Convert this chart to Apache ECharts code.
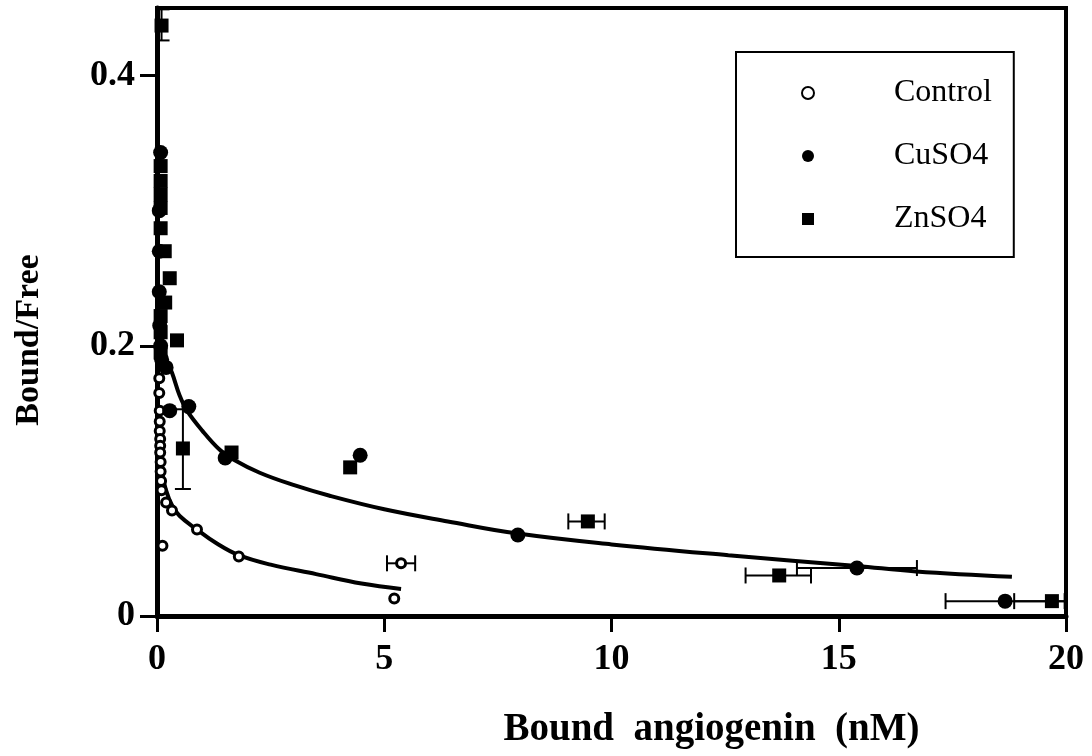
<!DOCTYPE html>
<html>
<head>
<meta charset="utf-8">
<script src="https://cdn.jsdelivr.net/npm/echarts@6/dist/echarts.min.js"></script>
<style>
html,body{margin:0;padding:0;background:#fff;}
#chart{width:1092px;height:756px;}
</style>
</head>
<body>
<div id="chart"></div>
<script>
// ---- data ----
const xTicks = [0, 5, 10, 15, 20];
const yTicks = [0, 0.2, 0.4];
const seriesNames = ['Control', 'CuSO4', 'ZnSO4'];

const controlPts = [[0.05,0.176],[0.05,0.165],[0.06,0.152],[0.06,0.144],[0.06,0.137],[0.07,0.131],[0.07,0.126],[0.07,0.121],[0.08,0.114],[0.08,0.107],[0.09,0.100],[0.10,0.093],[0.20,0.084],[0.33,0.078],[0.12,0.052],[0.88,0.064],[1.80,0.044],[5.22,0.013],[5.37,0.039]];
const cuPts = [[0.08,0.343],[0.05,0.300],[0.05,0.270],[0.05,0.240],[0.06,0.215],[0.08,0.200],[0.10,0.190],[0.20,0.184],[0.28,0.152],[0.70,0.155],[1.50,0.117],[4.47,0.119],[7.94,0.060],[15.40,0.0355],[18.66,0.011]];
const znPts = [[0.10,0.437],[0.08,0.333],[0.08,0.322],[0.08,0.312],[0.08,0.302],[0.08,0.287],[0.17,0.270],[0.28,0.250],[0.18,0.232],[0.08,0.222],[0.08,0.210],[0.44,0.204],[0.08,0.195],[0.57,0.124],[1.64,0.121],[4.25,0.110],[9.48,0.070],[13.69,0.030],[19.69,0.011]];

const controlFit = [[0.06,0.120],[0.10,0.108],[0.20,0.093],[0.33,0.082],[0.50,0.074],[0.88,0.064],[1.30,0.054],[1.80,0.045],[2.50,0.038],[3.50,0.031],[4.50,0.024],[5.37,0.020]];
const cuFit = [[0.20,0.190],[0.33,0.180],[0.50,0.163],[0.66,0.152],[1.00,0.137],[1.38,0.123],[1.67,0.116],[2.26,0.106],[3.00,0.097],[3.80,0.089],[5.00,0.079],[6.40,0.070],[7.94,0.061],[10.00,0.053],[12.57,0.045],[15.40,0.037],[16.70,0.033],[18.81,0.029]];

// horizontal error bars: [y, xLow, xHigh]
const hErr = [[0.039,5.06,5.68],[0.070,9.05,9.85],[0.030,12.95,14.39],[0.0355,14.08,16.72],[0.011,17.35,19.97],[0.011,18.86,20.5]];
// vertical error bars: [x, yLow, yHigh]
const vErr = [[0.10,0.426,0.449],[0.57,0.094,0.153]];

const serif = 'Liberation Serif';
const chart = echarts.init(document.getElementById('chart'), null, {renderer:'canvas'});

function capLine(x1,y1,x2,y2){
  return {type:'line', shape:{x1,y1,x2,y2}, style:{stroke:'#000', lineWidth:2}};
}

const option = {
  backgroundColor:'#fff',
  animation:false,
  grid:{left:157, right:26, top:8, bottom:140, show:true, borderColor:'#000', borderWidth:4},
  legend:{
    data: seriesNames,
    orient:'vertical',
    left:736, top:52,
    padding:[25,22,22,65],
    itemWidth:12, itemHeight:12,
    itemGap:31,
    borderColor:'#000', borderWidth:2,
    textStyle:{fontFamily:serif, fontSize:32, color:'#000', padding:[0,0,0,75]}
  },
  xAxis:{
    type:'value', min:0, max:20, interval:5,
    name:'Bound  angiogenin  (nM)', nameLocation:'middle', nameGap:94,
    nameTextStyle:{fontFamily:serif, fontWeight:'bold', fontSize:39, color:'#000', padding:[0,0,0,200]},
    axisLine:{show:true, onZero:false, lineStyle:{color:'#000', width:5}},
    axisTick:{show:true, inside:false, length:16, lineStyle:{color:'#000', width:3}},
    axisLabel:{margin:26, fontFamily:serif, fontWeight:'bold', fontSize:36, color:'#000',
      formatter:v=> xTicks.includes(v) ? String(v) : ''},
    splitLine:{show:false}
  },
  yAxis:{
    type:'value', min:0, max:0.45,
    name:'Bound/Free', nameLocation:'middle', nameGap:111,
    nameTextStyle:{fontFamily:serif, fontWeight:'bold', fontSize:34, color:'#000', padding:[0,56,0,0]},
    axisLine:{show:true, onZero:false, lineStyle:{color:'#000', width:5}},
    axisTick:{show:true, length:17, lineStyle:{color:'#000', width:3}, customValues: yTicks},
    axisLabel:{margin:22, fontFamily:serif, fontWeight:'bold', fontSize:36, color:'#000', customValues: yTicks,
      formatter:v=> String(v)},
    splitLine:{show:false}
  },
  series:[
    {type:'line', data:controlFit, smooth:0.4, showSymbol:false, silent:true, z:2,
      lineStyle:{color:'#000', width:4}},
    {type:'line', data:cuFit, smooth:0.4, showSymbol:false, silent:true, z:2,
      lineStyle:{color:'#000', width:4}},
    {type:'custom', z:3, clip:true, silent:true, data:hErr,
      renderItem:(params, api)=>{
        const y = api.value(0);
        const p1 = api.coord([api.value(1), y]);
        const p2 = api.coord([api.value(2), y]);
        const h = 8;
        return {type:'group', children:[
          capLine(p1[0],p1[1],p2[0],p2[1]),
          capLine(p1[0],p1[1]-h,p1[0],p1[1]+h),
          capLine(p2[0],p2[1]-h,p2[0],p2[1]+h)
        ]};
      }},
    {type:'custom', z:3, clip:true, silent:true, data:vErr,
      renderItem:(params, api)=>{
        const x = api.value(0);
        const p1 = api.coord([x, api.value(1)]);
        const p2 = api.coord([x, api.value(2)]);
        const w = 8;
        return {type:'group', children:[
          capLine(p1[0],p1[1],p2[0],p2[1]),
          capLine(p1[0]-w,p1[1],p1[0]+w,p1[1]),
          capLine(p2[0]-w,p2[1],p2[0]+w,p2[1])
        ]};
      }},
    {name:'Control', type:'scatter', data:controlPts, symbol:'circle', symbolSize:9, z:5,
      itemStyle:{color:'#fff', borderColor:'#000', borderWidth:3, opacity:1}},
    {name:'CuSO4', type:'scatter', data:cuPts, symbol:'circle', symbolSize:15, z:5,
      itemStyle:{color:'#000', opacity:1}},
    {name:'ZnSO4', type:'scatter', data:znPts, symbol:'rect', symbolSize:14, z:5,
      itemStyle:{color:'#000', opacity:1}}
  ]
};
chart.setOption(option);
</script>
</body>
</html>
